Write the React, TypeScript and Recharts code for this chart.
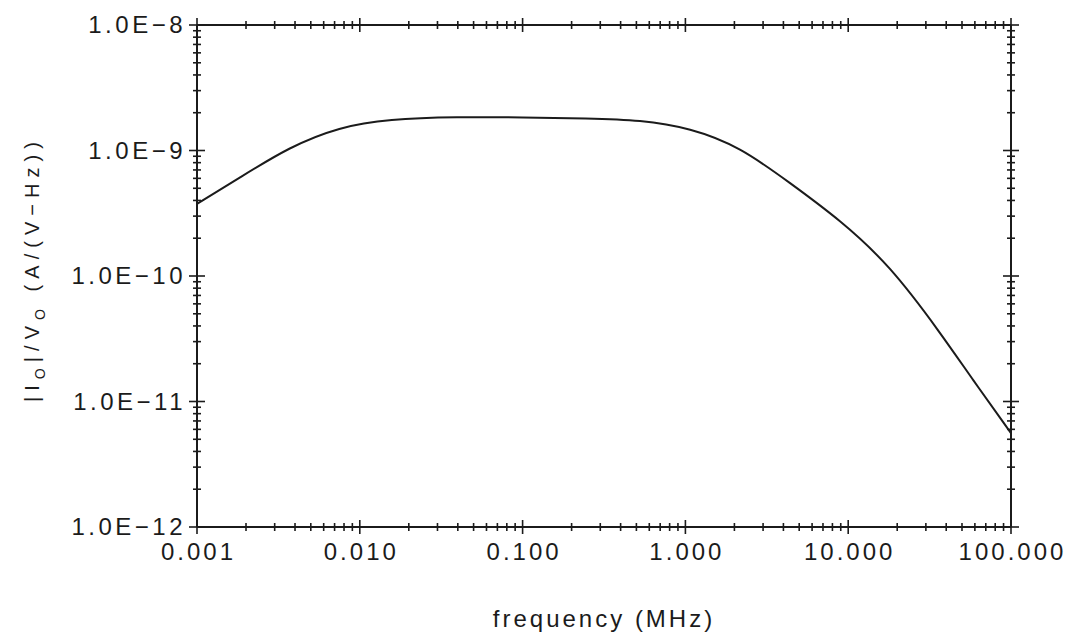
import { LineChart, Line, XAxis, YAxis } from "recharts";

// frequency (MHz) and |Io|/Vo (A/(V-Hz))
const freqMHz = [0.001, 0.0018, 0.0037, 0.0075, 0.015, 0.04, 0.1, 0.25, 0.53, 1.07, 2.16, 4.4, 8.9, 18, 37, 58, 100];
const admittance = [
  3.75e-10, 6.0e-10, 1.07e-9, 1.54e-9, 1.78e-9, 1.85e-9, 1.84e-9, 1.8e-9, 1.75e-9,
  1.51e-9, 1.07e-9, 5.5e-10, 2.8e-10, 1.22e-10, 3.5e-11, 1.5e-11, 5.6e-12,
];

const xDecades = [0.001, 0.01, 0.1, 1, 10, 100];
const yDecades = [1e-12, 1e-11, 1e-10, 1e-9, 1e-8];

const data = freqMHz.map((f, i) => ({ f, v: admittance[i] }));

// decade ticks plus the 2..9 minor ticks in between
function withMinors(decades: number[]) {
  const out: number[] = [];
  decades.forEach((d, i) => {
    out.push(d);
    if (i < decades.length - 1) {
      for (let m = 2; m <= 9; m++) out.push(Number((d * m).toPrecision(3)));
    }
  });
  return out;
}

const xTicks = withMinors(xDecades);
const yTicks = withMinors(yDecades);

const INK = "#1b1b1b";
const FONT = "'Liberation Sans', Arial, Helvetica, sans-serif";

const isMajor = (v: number, decades: number[]) =>
  decades.some((d) => Math.abs(d - v) / d < 1e-6);

const fmtX = (v: number) => v.toFixed(3);
const fmtY = (v: number) => `1.0E\u2212${-Math.round(Math.log10(v))}`;

function BottomTick({ x, y, payload }: any) {
  const major = isMajor(payload.value, xDecades);
  const h = major ? 7 : 4;
  return (
    <g>
      <line x1={x} x2={x} y1={y - h} y2={y + h} stroke={INK} strokeWidth={1.6} />
      {major && (
        <text x={x + 1.5} y={y + 33} textAnchor="middle" fontSize={24} letterSpacing={3} fontFamily={FONT} fill={INK}>
          {fmtX(payload.value)}
        </text>
      )}
    </g>
  );
}

function TopTick({ x, y, payload }: any) {
  const h = isMajor(payload.value, xDecades) ? 7 : 4;
  return <line x1={x} x2={x} y1={y - h} y2={y + h} stroke={INK} strokeWidth={1.6} />;
}

function LeftTick({ x, y, payload }: any) {
  const major = isMajor(payload.value, yDecades);
  const h = major ? 8 : 4;
  return (
    <g>
      <line x1={x - h} x2={x + h} y1={y} y2={y} stroke={INK} strokeWidth={1.6} />
      {major && (
        <text x={x - 11} y={y + 8} textAnchor="end" fontSize={24} letterSpacing={3.5} fontFamily={FONT} fill={INK}>
          {fmtY(payload.value)}
        </text>
      )}
    </g>
  );
}

function RightTick({ x, y, payload }: any) {
  const h = isMajor(payload.value, yDecades) ? 8 : 4;
  return <line x1={x - h} x2={x + h} y1={y} y2={y} stroke={INK} strokeWidth={1.6} />;
}

function YTitle() {
  return (
    <text
      x={39}
      y={272}
      transform="rotate(-90, 39, 272)"
      textAnchor="middle"
      fontSize={20}
      fontFamily={FONT}
      fill={INK}
      textLength={260}
    >
      |I
      <tspan fontSize={14} dy={6}>O</tspan>
      <tspan dy={-6}>|/V</tspan>
      <tspan fontSize={14} dy={6}>O</tspan>
      <tspan dy={-6}> (A/(V{"\u2212"}Hz))</tspan>
    </text>
  );
}

function XTitle() {
  return (
    <text x={604} y={627} textAnchor="middle" fontSize={24} letterSpacing={3} fontFamily={FONT} fill={INK}>
      frequency (MHz)
    </text>
  );
}

const axisLine = { stroke: INK, strokeWidth: 2 };

export default function App() {
  return (
    <div style={{ position: "absolute", left: 0, top: 0, background: "#fff" }}>
      <LineChart width={1077} height={640} data={data} margin={{ top: 24, right: 65, bottom: 0, left: 0 }}>
        <XAxis
          dataKey="f"
          type="number"
          scale="log"
          domain={[0.001, 100]}
          allowDataOverflow
          ticks={xTicks}
          interval={0}
          tickSize={0}
          tickMargin={0}
          tickLine={false}
          tick={<BottomTick />}
          axisLine={axisLine}
          height={113}
          label={<XTitle />}
        />
        <XAxis
          xAxisId="top"
          orientation="top"
          dataKey="f"
          type="number"
          scale="log"
          domain={[0.001, 100]}
          allowDataOverflow
          ticks={xTicks}
          interval={0}
          tickSize={0}
          tickMargin={0}
          tickLine={false}
          tick={<TopTick />}
          axisLine={axisLine}
          height={1}
        />
        <YAxis
          type="number"
          scale="log"
          domain={[1e-12, 1e-8]}
          allowDataOverflow
          ticks={yTicks}
          interval={0}
          tickSize={0}
          tickMargin={0}
          tickLine={false}
          tick={<LeftTick />}
          axisLine={axisLine}
          width={197}
          label={<YTitle />}
        />
        <YAxis
          yAxisId="right"
          orientation="right"
          type="number"
          scale="log"
          domain={[1e-12, 1e-8]}
          allowDataOverflow
          ticks={yTicks}
          interval={0}
          tickSize={0}
          tickMargin={0}
          tickLine={false}
          tick={<RightTick />}
          axisLine={axisLine}
          width={1}
        />
        <Line
          type="basis"
          dataKey="v"
          stroke={INK}
          strokeWidth={2}
          dot={false}
          isAnimationActive={false}
        />
      </LineChart>
    </div>
  );
}
